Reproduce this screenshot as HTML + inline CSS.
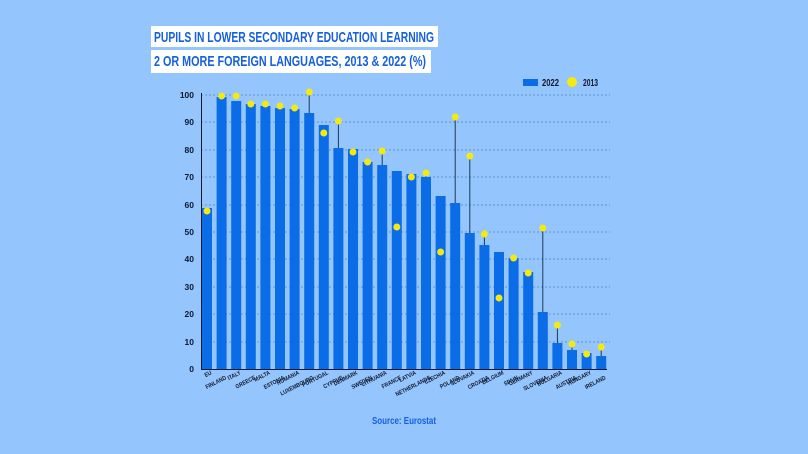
<!DOCTYPE html>
<html><head><meta charset="utf-8"><style>
html,body{margin:0;padding:0;background:#94c5fd;}
svg{display:block;font-family:"Liberation Sans",sans-serif;}
</style></head><body>
<svg width="808" height="454" viewBox="0 0 808 454" xmlns="http://www.w3.org/2000/svg">
<rect width="808" height="454" fill="#94c5fd"/>
<rect x="151" y="26" width="287" height="21" fill="#fff"/>
<rect x="151" y="50" width="280" height="23" fill="#fff"/>
<text x="154" y="42" font-size="15" font-weight="bold" fill="#1560e0" textLength="280" lengthAdjust="spacingAndGlyphs">PUPILS IN LOWER SECONDARY EDUCATION LEARNING</text>
<text x="154" y="66" font-size="15" font-weight="bold" fill="#1560e0" textLength="272" lengthAdjust="spacingAndGlyphs">2 OR MORE FOREIGN LANGUAGES, 2013 &amp; 2022 (%)</text>
<rect x="523" y="79" width="15" height="7" fill="#0b6ce8"/>
<text x="542" y="86" font-size="10" font-weight="bold" fill="#101830" textLength="17" lengthAdjust="spacingAndGlyphs">2022</text>
<circle cx="572" cy="82" r="5" fill="#f5ea10"/>
<text x="583" y="86" font-size="10" font-weight="bold" fill="#101830" textLength="15" lengthAdjust="spacingAndGlyphs">2013</text>
<g stroke="#4f84c8" stroke-width="0.8" stroke-dasharray="2,2">
<line x1="201" y1="95" x2="610" y2="95"/><line x1="201" y1="122" x2="610" y2="122"/><line x1="201" y1="150" x2="610" y2="150"/><line x1="201" y1="177" x2="610" y2="177"/><line x1="201" y1="205" x2="610" y2="205"/><line x1="201" y1="232" x2="610" y2="232"/><line x1="201" y1="259" x2="610" y2="259"/><line x1="201" y1="287" x2="610" y2="287"/><line x1="201" y1="314" x2="610" y2="314"/><line x1="201" y1="342" x2="610" y2="342"/>
</g>
<g font-size="8.5" font-weight="bold" fill="#101830" text-anchor="end">
<text x="194" y="98">100</text><text x="194" y="125">90</text><text x="194" y="153">80</text><text x="194" y="180">70</text><text x="194" y="208">60</text><text x="194" y="235">50</text><text x="194" y="262">40</text><text x="194" y="290">30</text><text x="194" y="317">20</text><text x="194" y="345">10</text><text x="194" y="372">0</text>
</g>
<g fill="#0b6ce8">
<rect x="202" y="208" width="10" height="161"/><rect x="216.6" y="97" width="10" height="272"/><rect x="231.2" y="101" width="10" height="268"/><rect x="245.8" y="104" width="10" height="265"/><rect x="260.4" y="106" width="10" height="263"/><rect x="275" y="108" width="10" height="261"/><rect x="289.6" y="109" width="10" height="260"/><rect x="304.2" y="113" width="10" height="256"/><rect x="318.8" y="125" width="10" height="244"/><rect x="333.4" y="148" width="10" height="221"/><rect x="348" y="149" width="10" height="220"/><rect x="362.6" y="162" width="10" height="207"/><rect x="377.2" y="165" width="10" height="204"/><rect x="391.8" y="171" width="10" height="198"/><rect x="406.4" y="174" width="10" height="195"/><rect x="421" y="177" width="10" height="192"/><rect x="435.6" y="196" width="10" height="173"/><rect x="450.2" y="203" width="10" height="166"/><rect x="464.8" y="233" width="10" height="136"/><rect x="479.4" y="245" width="10" height="124"/><rect x="494" y="252" width="10" height="117"/><rect x="508.6" y="258" width="10" height="111"/><rect x="523.2" y="272" width="10" height="97"/><rect x="537.8" y="312" width="10" height="57"/><rect x="552.4" y="343" width="10" height="26"/><rect x="567" y="350" width="10" height="19"/><rect x="581.6" y="353" width="10" height="16"/><rect x="596.2" y="356" width="10" height="13"/>
</g>
<g stroke="#1a3a5a" stroke-width="1">
<line x1="309.2" y1="92" x2="309.2" y2="113"/><line x1="338.4" y1="121" x2="338.4" y2="148"/><line x1="382.2" y1="151" x2="382.2" y2="165"/><line x1="426" y1="173" x2="426" y2="177"/><line x1="455.2" y1="117" x2="455.2" y2="203"/><line x1="469.8" y1="156" x2="469.8" y2="233"/><line x1="484.4" y1="234" x2="484.4" y2="245"/><line x1="542.8" y1="228" x2="542.8" y2="312"/><line x1="557.4" y1="325" x2="557.4" y2="343"/><line x1="572" y1="344" x2="572" y2="350"/><line x1="601.2" y1="347" x2="601.2" y2="356"/>
</g>
<line x1="201.5" y1="93" x2="201.5" y2="369.5" stroke="#101830" stroke-width="1"/>
<line x1="201" y1="369.5" x2="607" y2="369.5" stroke="#101830" stroke-width="1"/>
<g fill="#f5ea10">
<circle cx="207" cy="211" r="3.5"/><circle cx="221.6" cy="96" r="3.5"/><circle cx="236.2" cy="96" r="3.5"/><circle cx="250.8" cy="104" r="3.5"/><circle cx="265.4" cy="104" r="3.5"/><circle cx="280" cy="106" r="3.5"/><circle cx="294.6" cy="108" r="3.5"/><circle cx="309.2" cy="92" r="3.5"/><circle cx="323.8" cy="133" r="3.5"/><circle cx="338.4" cy="121" r="3.5"/><circle cx="353" cy="152" r="3.5"/><circle cx="367.6" cy="162" r="3.5"/><circle cx="382.2" cy="151" r="3.5"/><circle cx="396.8" cy="227" r="3.5"/><circle cx="411.4" cy="177" r="3.5"/><circle cx="426" cy="173" r="3.5"/><circle cx="440.6" cy="252" r="3.5"/><circle cx="455.2" cy="117" r="3.5"/><circle cx="469.8" cy="156" r="3.5"/><circle cx="484.4" cy="234" r="3.5"/><circle cx="499" cy="298" r="3.5"/><circle cx="513.6" cy="258" r="3.5"/><circle cx="528.2" cy="273" r="3.5"/><circle cx="542.8" cy="228" r="3.5"/><circle cx="557.4" cy="325" r="3.5"/><circle cx="572" cy="344" r="3.5"/><circle cx="586.6" cy="354" r="3.5"/><circle cx="601.2" cy="347" r="3.5"/>
</g>
<g font-size="6" font-weight="bold" fill="#101830" text-anchor="end">
<text transform="translate(212,374) rotate(-27) scale(0.85,1)">EU</text>
<text transform="translate(226.6,379) rotate(-27) scale(0.85,1)">FINLAND</text>
<text transform="translate(241.2,374) rotate(-27) scale(0.85,1)">ITALY</text>
<text transform="translate(255.8,379) rotate(-27) scale(0.85,1)">GREECE</text>
<text transform="translate(270.4,374) rotate(-27) scale(0.85,1)">MALTA</text>
<text transform="translate(285,379) rotate(-27) scale(0.85,1)">ESTONIA</text>
<text transform="translate(299.6,374) rotate(-27) scale(0.85,1)">ROMANIA</text>
<text transform="translate(314.2,379) rotate(-27) scale(0.85,1)">LUXEMBOURG</text>
<text transform="translate(328.8,374) rotate(-27) scale(0.85,1)">PORTUGAL</text>
<text transform="translate(343.4,379) rotate(-27) scale(0.85,1)">CYPRUS</text>
<text transform="translate(358,374) rotate(-27) scale(0.85,1)">DENMARK</text>
<text transform="translate(372.6,379) rotate(-27) scale(0.85,1)">SWEDEN</text>
<text transform="translate(387.2,374) rotate(-27) scale(0.85,1)">LITHUANIA</text>
<text transform="translate(401.8,379) rotate(-27) scale(0.85,1)">FRANCE</text>
<text transform="translate(416.4,374) rotate(-27) scale(0.85,1)">LATVIA</text>
<text transform="translate(431,379) rotate(-27) scale(0.85,1)">NETHERLANDS</text>
<text transform="translate(445.6,374) rotate(-27) scale(0.85,1)">CZECHIA</text>
<text transform="translate(460.2,379) rotate(-27) scale(0.85,1)">POLAND</text>
<text transform="translate(474.8,374) rotate(-27) scale(0.85,1)">SLOVAKIA</text>
<text transform="translate(489.4,379) rotate(-27) scale(0.85,1)">CROATIA</text>
<text transform="translate(504,374) rotate(-27) scale(0.85,1)">BELGIUM</text>
<text transform="translate(518.6,379) rotate(-27) scale(0.85,1)">SPAIN</text>
<text transform="translate(533.2,374) rotate(-27) scale(0.85,1)">GERMANY</text>
<text transform="translate(547.8,379) rotate(-27) scale(0.85,1)">SLOVENIA</text>
<text transform="translate(562.4,374) rotate(-27) scale(0.85,1)">BULGARIA</text>
<text transform="translate(577,379) rotate(-27) scale(0.85,1)">AUSTRIA</text>
<text transform="translate(591.6,374) rotate(-27) scale(0.85,1)">HUNGARY</text>
<text transform="translate(606.2,379) rotate(-27) scale(0.85,1)">IRELAND</text>
</g>
<text x="404" y="424" font-size="10" font-weight="bold" fill="#1560e0" text-anchor="middle" textLength="64" lengthAdjust="spacingAndGlyphs">Source: Eurostat</text>
</svg>
</body></html>
